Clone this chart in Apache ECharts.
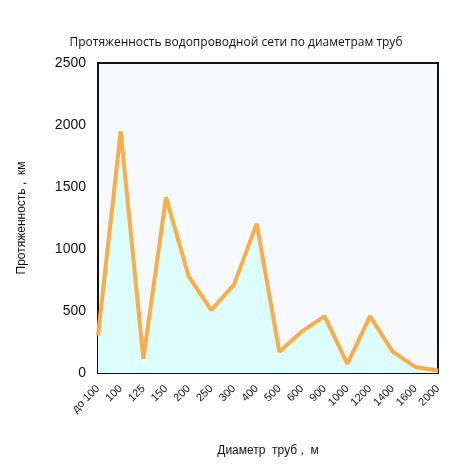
<!DOCTYPE html>
<html><head><meta charset="utf-8">
<script src="https://cdn.jsdelivr.net/npm/echarts@6/dist/echarts.min.js"></script>
<style>html,body{margin:0;background:#fff}#c{width:472px;height:472px}</style>
</head><body><div id="c"></div>
<script>
var diameters = ['до 100','100','125','150','200','250','300','400','500','600','900','1000','1200','1400','1600','2000'];
var lengths = [303,1950,115,1418,779,508,713,1205,172,336,459,74,459,172,49,20];
var yTicks = [0,500,1000,1500,2000,2500];

var chart = echarts.init(document.getElementById('c'));
chart.setOption({
  title: {
    text: 'Протяженность водопроводной сети по диаметрам труб',
    left: 'center', top: 32,
    textStyle: {fontSize: 12, fontWeight: 'normal', color: '#111', fontFamily: 'Liberation Sans Narrow, Open Sans'}
  },
  grid: {left: 98, right: 34, top: 63, bottom: 99, show: true,
    backgroundColor: '#f5f9fc', borderColor: '#111', borderWidth: 2},
  xAxis: {
    type: 'category', data: diameters, boundaryGap: false,
    name: 'Диаметр  труб ,  м', nameLocation: 'middle', nameGap: 72,
    nameTextStyle: {fontSize: 12, color: '#111'},
    axisLine: {show: false}, axisTick: {show: false},
    axisLabel: {rotate: 45, interval: 0, fontSize: 11, color: '#111', margin: 14}
  },
  yAxis: {
    type: 'value', min: 0, max: yTicks[yTicks.length - 1], interval: 500,
    name: 'Протяженность ,  км', nameLocation: 'middle', nameGap: 70,
    nameTextStyle: {fontSize: 12, color: '#111'},
    axisLine: {show: false}, axisTick: {show: false}, splitLine: {show: false},
    axisLabel: {fontSize: 14, color: '#111', margin: 12, formatter: function (v) { return String(v); }}
  },
  series: [{
    type: 'line', data: lengths, symbol: 'none',
    lineStyle: {color: '#f9ad4a', width: 4},
    areaStyle: {color: '#dcfdfc', opacity: 1}
  }]
});
</script></body></html>
